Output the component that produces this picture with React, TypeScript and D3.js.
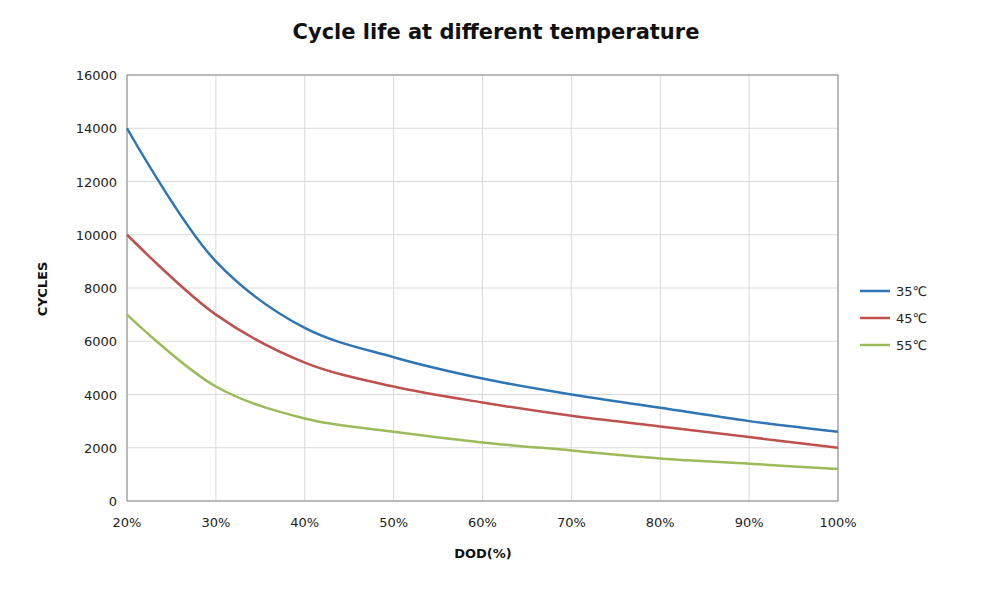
import React from "react";
import * as d3 from "d3";

const dod = [20, 30, 40, 50, 60, 70, 80, 90, 100];
const c35 = [14000, 9000, 6500, 5400, 4600, 4000, 3500, 3000, 2600];
const c45 = [10000, 7000, 5200, 4300, 3700, 3200, 2800, 2400, 2000];
const c55 = [7000, 4300, 3100, 2600, 2200, 1900, 1600, 1400, 1200];
const yTicks = [0, 2000, 4000, 6000, 8000, 10000, 12000, 14000, 16000];
const series = [
  { name: "35\u2103", values: c35, color: "#2e75b6" },
  { name: "45\u2103", values: c45, color: "#c0504d" },
  { name: "55\u2103", values: c55, color: "#9bbb59" },
];

const App: React.FC = () => {
  const width = 996;
  const height = 589;
  const left = 127, right = 838, top = 75, bottom = 501;
  const x = d3.scaleLinear().domain([20, 100]).range([left, right]);
  const y = d3.scaleLinear().domain([0, 16000]).range([bottom, top]);
  const line = d3
    .line<number>()
    .x((_, i) => x(dod[i]))
    .y((d) => y(d))
    .curve(d3.curveCatmullRom.alpha(0.5));
  const font = "'DejaVu Sans', Verdana, sans-serif";

  return (
    <svg width={width} height={height} style={{ position: "absolute", left: 0, top: 0, background: "#fff" }} fontFamily={font}>
      <text x={496} y={39} textAnchor="middle" fontSize={21} fontWeight="bold" fill="#111">
        Cycle life at different temperature
      </text>
      {dod.map((d) => (
        <line key={"gx" + d} x1={x(d)} x2={x(d)} y1={top} y2={bottom} stroke="#d9d9d9" />
      ))}
      {yTicks.map((t) => (
        <line key={"gy" + t} x1={left} x2={right} y1={y(t)} y2={y(t)} stroke="#d9d9d9" />
      ))}
      <rect x={left} y={top} width={right - left} height={bottom - top} fill="none" stroke="#888" />
      {yTicks.map((t) => (
        <text key={"ty" + t} x={left - 10} y={y(t) + 5} textAnchor="end" fontSize={13} fill="#222">
          {t}
        </text>
      ))}
      {dod.map((d) => (
        <text key={"tx" + d} x={x(d)} y={bottom + 26} textAnchor="middle" fontSize={13} fill="#222">
          {d}%
        </text>
      ))}
      <text x={483} y={558} textAnchor="middle" fontSize={13} fontWeight="bold" fill="#111">
        DOD(%)
      </text>
      <text transform="translate(47,289) rotate(-90)" textAnchor="middle" fontSize={13} fontWeight="bold" fill="#111">
        CYCLES
      </text>
      {series.map((s) => (
        <path key={s.name} d={line(s.values) || ""} fill="none" stroke={s.color} strokeWidth={2.5} />
      ))}
      {series.map((s, i) => (
        <g key={"lg" + s.name} transform={`translate(860,${291 + i * 27})`}>
          <line x1={0} x2={30} y1={0} y2={0} stroke={s.color} strokeWidth={2.5} />
          <text x={36} y={5} fontSize={13} fill="#222">
            {s.name}
          </text>
        </g>
      ))}
    </svg>
  );
};

export default App;
